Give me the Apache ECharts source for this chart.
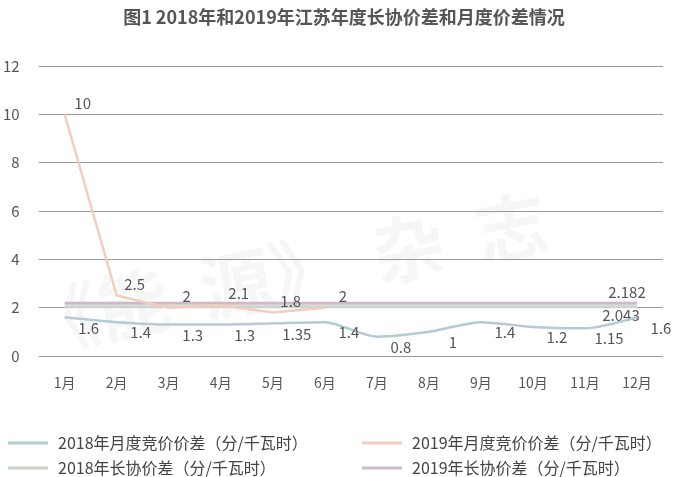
<!DOCTYPE html>
<html>
<head>
<meta charset="utf-8">
<script src="https://cdn.jsdelivr.net/npm/echarts@6/dist/echarts.min.js"></script>
<style>
  html, body { margin: 0; padding: 0; background: #fff; }
  #main { width: 688px; height: 477px; }
</style>
</head>
<body>
<div id="main"></div>
<script>
const months = ["1月", "2月", "3月", "4月", "5月", "6月", "7月", "8月", "9月", "10月", "11月", "12月"];
const monthly2018 = [1.6, 1.4, 1.3, 1.3, 1.35, 1.4, 0.8, 1, 1.4, 1.2, 1.15, 1.6];
const monthly2019 = [10, 2.5, 2, 2.1, 1.8, 2];
const longTerm2018 = 2.043;
const longTerm2019 = 2.182;
const yTicks = [0, 2, 4, 6, 8, 10, 12];

const names = [
  "2018年月度竞价价差（分/千瓦时）",
  "2019年月度竞价价差（分/千瓦时）",
  "2018年长协价差（分/千瓦时）",
  "2019年长协价差（分/千瓦时）"
];

const FONT = '"Noto Sans CJK SC", "Noto Sans", sans-serif';
const textColor = "#555";

// constant lines across all months, label only at the end
const flat = v => months.map(() => v);
const lastOnly = params => params.dataIndex === months.length - 1 ? params.value : "";

const legendItem = (name, left, top) => ({
  data: [name],
  left: left,
  top: top,
  icon: "rect",
  itemWidth: 40,
  itemHeight: 3,
  itemGap: 10,
  textStyle: { fontFamily: FONT, fontSize: 16, color: "#444", padding: [0, 0, 0, 5] }
});

const labelStyle = { color: textColor, fontSize: 15, fontFamily: FONT };

const chart = echarts.init(document.getElementById("main"));
chart.setOption({
  animation: false,
  textStyle: { fontFamily: FONT },
  title: {
    text: "图1 2018年和2019年江苏年度长协价差和月度价差情况",
    left: "center",
    top: 3,
    textStyle: { fontFamily: FONT, fontSize: 18, fontWeight: "bold", color: "#555" }
  },
  graphic: [{
    type: "text",
    left: 20,
    top: 185,
    rotation: 0.2,
    silent: true,
    z: -1,
    style: {
      text: "《能  源》  杂  志",
      font: 'bold 72px "Noto Sans CJK SC"',
      fill: "rgba(0,0,0,0.035)"
    }
  }],
  legend: [
    legendItem(names[0], 3, 430),
    legendItem(names[1], 357, 430),
    legendItem(names[2], 3, 455),
    legendItem(names[3], 357, 455)
  ],
  grid: { left: 37, right: 25, top: 66, bottom: 121 },
  xAxis: {
    type: "category",
    data: months,
    boundaryGap: true,
    axisLine: { show: false },
    axisTick: { show: false },
    axisLabel: { color: textColor, fontSize: 14, margin: 20, fontFamily: FONT }
  },
  yAxis: {
    type: "value",
    min: yTicks[0],
    max: yTicks[yTicks.length - 1],
    interval: 2,
    axisLine: { show: false },
    axisTick: { show: false },
    axisLabel: { color: textColor, fontSize: 15, margin: 19, fontFamily: FONT },
    splitLine: { lineStyle: { color: "#999", width: 1 } }
  },
  series: [
    {
      name: names[0],
      type: "line",
      data: monthly2018,
      smooth: 0.25,
      symbol: "circle",
      symbolSize: 0,
      lineStyle: { color: "#b4cad4", width: 2.5 },
      itemStyle: { color: "#b4cad4" },
      label: Object.assign({ show: true, position: "bottom", distance: 3, offset: [24, 0] }, labelStyle),
      z: 4
    },
    {
      name: names[1],
      type: "line",
      data: monthly2019,
      symbol: "circle",
      symbolSize: 0,
      lineStyle: { color: "#f3cdbd", width: 2.5 },
      itemStyle: { color: "#f3cdbd" },
      label: Object.assign({ show: true, position: "top", distance: 4, offset: [18, 0] }, labelStyle),
      z: 5
    },
    {
      name: names[2],
      type: "line",
      data: flat(longTerm2018),
      symbol: "circle",
      symbolSize: 0,
      lineStyle: { color: "#c9d5cd", width: 3 },
      itemStyle: { color: "#c9d5cd" },
      label: Object.assign({ show: true, position: "bottom", distance: 1, offset: [-16, 0], formatter: lastOnly }, labelStyle),
      z: 3
    },
    {
      name: names[3],
      type: "line",
      data: flat(longTerm2019),
      symbol: "circle",
      symbolSize: 0,
      lineStyle: { color: "#cdb9c9", width: 3 },
      itemStyle: { color: "#cdb9c9" },
      label: Object.assign({ show: true, position: "top", distance: 3, offset: [-10, 0], formatter: lastOnly }, labelStyle),
      z: 3
    }
  ]
});
window.onresize = function () {
  chart.resize();
};
</script>
</body>
</html>
